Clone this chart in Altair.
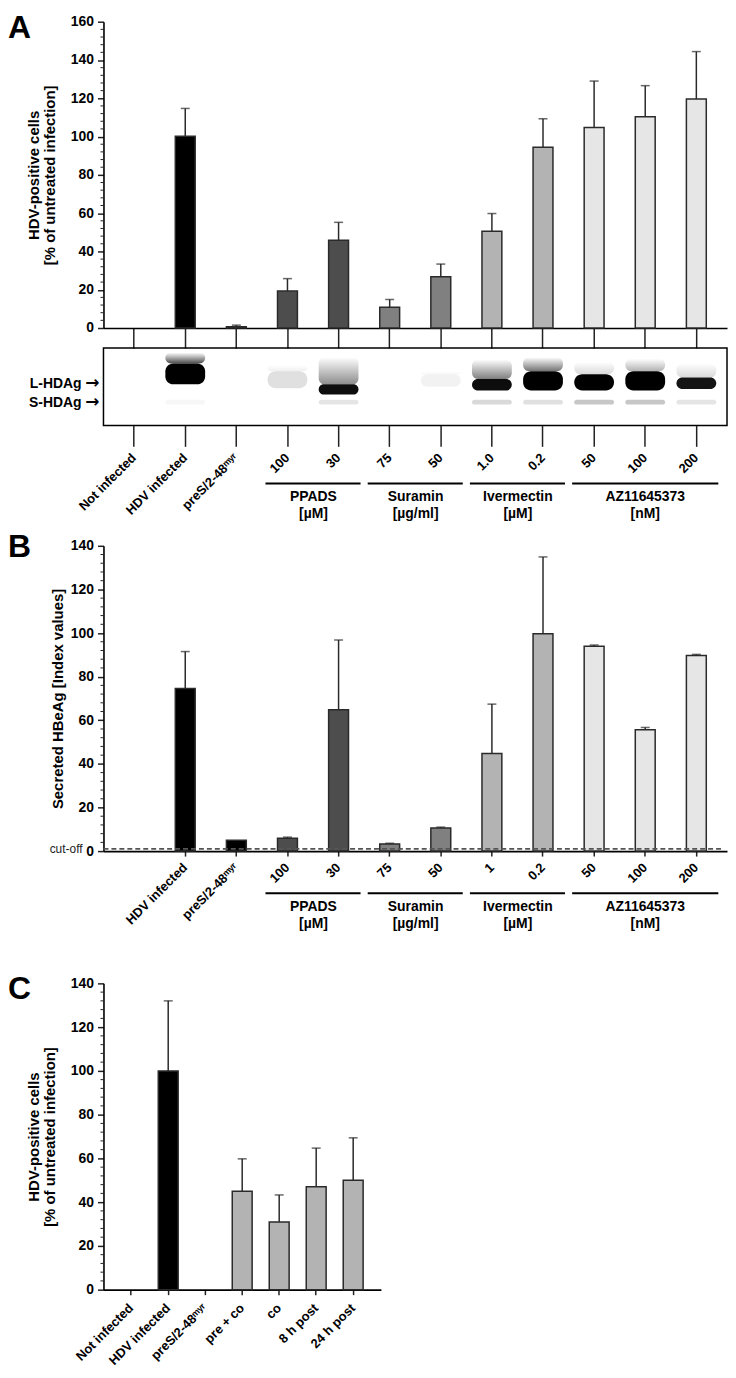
import json
import altair as alt
import pandas as pd

FONT = "Liberation Sans"

# ---------------- data: panels A and B (shared lanes) ----------------
lane_keys = ["Not infected", "HDV infected", "preS/2-48ᵐʸʳ", "PPADS 100", "PPADS 30",
             "Suramin 75", "Suramin 50", "Ivermectin 1.0", "Ivermectin 0.2",
             "AZ11645373 50", "AZ11645373 100", "AZ11645373 200"]
a_tick_labels = ["Not infected", "HDV infected", "preS/2-48ᵐʸʳ", "100", "30", "75", "50",
                 "1.0", "0.2", "50", "100", "200"]
b_tick_labels = ["", "HDV infected", "preS/2-48ᵐʸʳ", "100", "30", "75", "50",
                 "1", "0.2", "50", "100", "200"]
lane_colors = ["#000000", "#000000", "#000000", "#4d4d4d", "#4d4d4d", "#808080", "#808080",
               "#b3b3b3", "#b3b3b3", "#e6e6e6", "#e6e6e6", "#e6e6e6"]

a_values = [0, 100.2, 0.7, 19.3, 45.9, 10.8, 26.8, 50.5, 94.4, 104.8, 110.3, 119.6]
a_err_top = [None, 114.7, 1.5, 25.8, 55.2, 14.9, 33.4, 59.8, 109.3, 129.0, 126.6, 144.4]

b_values = [None, 74.6, 5.0, 5.9, 64.8, 3.3, 10.6, 44.8, 99.7, 93.9, 55.6, 89.7]
b_err_top = [None, 91.5, None, 6.4, 96.8, 3.6, 11.0, 67.4, 134.9, 94.5, 56.7, 90.2]
cutoff = [1.0]

# western blot (band darkness 0..1, band positions in % of blot height from top)
blot_smear = [0, 0.7, 0, 0.06, 0.45, 0, 0.03, 0.5, 0.55, 0.15, 0.3, 0.15]
blot_smear_top = [0, 6, 0, 22, 12, 0, 30, 15, 12, 18, 14, 20]
blot_L = [0, 1.0, 0, 0.12, 0.95, 0, 0.05, 0.95, 1.0, 1.0, 1.0, 0.92]
blot_L_top = [0, 20, 0, 30, 47, 0, 34, 40, 30, 34, 30, 38]
blot_L_bottom = [0, 47, 0, 52, 60, 0, 50, 55, 55, 55, 55, 53]
blot_S = [0, 0.03, 0, 0, 0.1, 0, 0, 0.15, 0.12, 0.22, 0.22, 0.1]
blot_S_top = [67] * 12
blot_S_bottom = [73] * 12
band_names = ["L-HDAg", "S-HDAg"]
band_pos = [47, 71]

group_names = ["PPADS", "Suramin", "Ivermectin", "AZ11645373"]
group_units = ["[µM]", "[µg/ml]", "[µM]", "[nM]"]
group_first = ["PPADS 100", "Suramin 75", "Ivermectin 1.0", "AZ11645373 50"]
group_last = ["PPADS 30", "Suramin 50", "Ivermectin 0.2", "AZ11645373 200"]
group_anchor = ["PPADS 100", "Suramin 75", "Ivermectin 1.0", "AZ11645373 100"]
group_nlanes = [2, 2, 2, 3]

# ---------------- data: panel C ----------------
c_keys = ["Not infected", "HDV infected", "preS/2-48ᵐʸʳ", "pre + co", "co", "8 h post", "24 h post"]
c_values = [0, 100.0, 0, 45.0, 30.9, 47.0, 50.0]
c_err_top = [None, 132.0, None, 59.8, 43.3, 64.7, 69.4]
c_colors = ["#000000", "#000000", "#000000", "#b3b3b3", "#b3b3b3", "#b3b3b3", "#b3b3b3"]

a_yticks = [0, 20, 40, 60, 80, 100, 120, 140, 160]
bc_yticks = [0, 20, 40, 60, 80, 100, 120, 140]
a_minor = [v for v in range(0, 161, 4) if v % 20]
bc_minor = [v for v in range(0, 141, 4) if v % 20]

# ---------------- sizes ----------------
AB_W = 627
A_H = 308
BLOT_H = 78
B_H = 307
C_W = 279
C_H = 308

STROKE = "#2a2a2a"
AXC = dict(labelFont=FONT, labelFontWeight="bold", labelColor="black",
           titleFont=FONT, titleFontWeight="bold", titleFontSize=15, titleColor="black",
           domainColor="black", domainWidth=1.6, tickColor="#222222", tickWidth=1.5, grid=False)


def lbl_expr(keys, labels):
    k = json.dumps(keys, ensure_ascii=False)
    lab = json.dumps(labels, ensure_ascii=False)
    return f"{lab}[indexof({k}, datum.value)]"


xscale_ab = alt.Scale(type="band", domain=lane_keys, paddingInner=0.14, paddingOuter=0.17)
xscale_c = alt.Scale(type="band", domain=c_keys, paddingInner=0.3, paddingOuter=0.4)


def y_axis(title, ticks, tpad):
    return alt.Axis(values=ticks, tickSize=6, labelPadding=4, labelFontSize=14, title=title,
                    titlePadding=tpad, titleLineHeight=16, **AXC)


def x_axis(**kw):
    return alt.Axis(labelFontSize=13, labelAngle=-45, labelAlign="right", labelBaseline="middle",
                    labelOverlap=False, title=None, **kw, **AXC)


def letter(ch, y):
    return alt.Chart(pd.DataFrame({"t": [ch]})).mark_text(
        font=FONT, fontSize=32, fontWeight="bold", align="left", baseline="top", color="black"
    ).encode(text="t:N", x=alt.value(-96), y=alt.value(y))


def bar_layers(df, xscale, xaxis, vmax, yaxis, minor):
    yscale = alt.Scale(domain=[0, vmax], nice=False, zero=True)
    xs = alt.X("lane:N", scale=xscale, axis=xaxis)
    bars = alt.Chart(df).transform_filter("datum.value > 0").mark_bar(
        width=20, stroke=STROKE, strokeWidth=1.5
    ).encode(
        x=xs,
        y=alt.Y("value:Q", scale=yscale, axis=yaxis),
        fill=alt.Fill("color:N", scale=None),
    )
    err = alt.Chart(df).transform_filter("isValid(datum.err) && datum.err > 0").mark_rule(
        color=STROKE, strokeWidth=1.5
    ).encode(x=xs, y=alt.Y("value:Q", scale=yscale, axis=yaxis), y2="err:Q")
    caps = alt.Chart(df).transform_filter("isValid(datum.err) && datum.err > 0").mark_tick(
        color=STROKE, size=9, thickness=1.5
    ).encode(x=xs, y=alt.Y("err:Q", scale=yscale, axis=yaxis))
    minors = alt.Chart(pd.DataFrame({"m": minor})).mark_rule(color="#222222", strokeWidth=1).encode(
        y=alt.Y("m:Q", scale=yscale, axis=yaxis), x=alt.value(-3), x2=alt.value(0)
    )
    return [bars, err, caps, minors], yscale


def group_layers(xaxis, y_rule, y_text):
    gdf = pd.DataFrame({"name": group_names, "unit": group_units, "first": group_first,
                        "last": group_last, "anchor": group_anchor, "n": group_nlanes})
    gdf["label"] = gdf["name"] + "\n" + gdf["unit"]
    rules = alt.Chart(gdf).mark_rule(color="black", strokeWidth=2).encode(
        x=alt.X("first:N", scale=xscale_ab, axis=xaxis, bandPosition=0),
        x2=alt.X2("last:N", bandPosition=1),
        y=alt.value(y_rule),
    )
    txt_kw = dict(font=FONT, fontSize=14, fontWeight="bold", align="center", baseline="top",
                  lineBreak="\n", lineHeight=17, color="black")
    t2 = alt.Chart(gdf).transform_filter("datum.n == 2").mark_text(dx=4, **txt_kw).encode(
        x=alt.X("anchor:N", scale=xscale_ab, axis=xaxis, bandPosition=1),
        y=alt.value(y_text), text="label:N",
    )
    t3 = alt.Chart(gdf).transform_filter("datum.n == 3").mark_text(**txt_kw).encode(
        x=alt.X("anchor:N", scale=xscale_ab, axis=xaxis, bandPosition=0.5),
        y=alt.value(y_text), text="label:N",
    )
    return [rules, t2, t3]


TITLE_HDV = ["HDV-positive cells", "[% of untreated infection]"]

# ---------------- panel A: bars ----------------
dfA = pd.DataFrame({"lane": lane_keys, "value": a_values, "err": a_err_top, "color": lane_colors})
a_xaxis = alt.Axis(labels=False, tickSize=20, title=None, **AXC)
a_yaxis = y_axis(TITLE_HDV, a_yticks, 13)
a_layers, _ = bar_layers(dfA, xscale_ab, a_xaxis, 160, a_yaxis, a_minor)
a_bar = alt.layer(*a_layers, letter("A", -9)).properties(width=AB_W, height=A_H)

# ---------------- panel A: blot ----------------
dfBlot = pd.DataFrame({"lane": lane_keys, "smear": blot_smear, "smear_top": blot_smear_top,
                       "L": blot_L, "L_top": blot_L_top, "L_bot": blot_L_bottom,
                       "S": blot_S, "S_top": blot_S_top, "S_bot": blot_S_bottom})
by = alt.Scale(domain=[0, 100], reverse=True, nice=False, zero=False)
blot_xaxis = x_axis(domain=False, tickSize=21, labelPadding=9,
                    labelExpr=lbl_expr(lane_keys, a_tick_labels))
bx = alt.X("lane:N", scale=xscale_ab, axis=blot_xaxis)
grad = alt.LinearGradient(gradient="linear",
                          stops=[alt.GradientStop(color="#ffffff", offset=0),
                                 alt.GradientStop(color="#000000", offset=1)],
                          x1=0, x2=0, y1=0, y2=1)
smear = alt.Chart(dfBlot).transform_filter("datum.smear > 0").mark_bar(
    width=40, cornerRadius=6, color=grad
).encode(
    x=bx, y=alt.Y("smear_top:Q", scale=by, axis=None), y2="L_top:Q",
    opacity=alt.Opacity("smear:Q", scale=None),
)
lband = alt.Chart(dfBlot).transform_filter("datum.L > 0").mark_bar(
    width=40, cornerRadius=8, color="#000000"
).encode(
    x=bx, y=alt.Y("L_top:Q", scale=by, axis=None), y2="L_bot:Q",
    opacity=alt.Opacity("L:Q", scale=None),
)
sband = alt.Chart(dfBlot).transform_filter("datum.S > 0").mark_bar(
    width=40, cornerRadius=3, color="#000000"
).encode(
    x=bx, y=alt.Y("S_top:Q", scale=by, axis=None), y2="S_bot:Q",
    opacity=alt.Opacity("S:Q", scale=None),
)
band_df = pd.DataFrame({"name": band_names, "pos": band_pos, "arrow": ["→", "→"]})
band_lbl = alt.Chart(band_df).mark_text(
    font=FONT, fontSize=14, fontWeight="bold", align="right", baseline="middle", color="black"
).encode(text="name:N", x=alt.value(-22), y=alt.Y("pos:Q", scale=by, axis=None))
band_arrow = alt.Chart(band_df).mark_text(
    font="DejaVu Sans", fontSize=17, fontWeight="bold", align="right", baseline="middle",
    color="black", dy=-1
).encode(text="arrow:N", x=alt.value(-4), y=alt.Y("pos:Q", scale=by, axis=None))

a_blot = alt.layer(smear, lband, sband, band_lbl, band_arrow,
                   *group_layers(blot_xaxis, BLOT_H + 58.4, BLOT_H + 65.4)).properties(
    width=AB_W, height=BLOT_H,
    view=alt.ViewBackground(stroke="black", strokeWidth=1.5),
)

# ---------------- panel B ----------------
dfB = pd.DataFrame({"lane": lane_keys, "value": b_values, "err": b_err_top, "color": lane_colors})
b_xaxis = x_axis(values=lane_keys[1:], tickSize=5, labelPadding=9,
                 labelExpr=lbl_expr(lane_keys, b_tick_labels))
b_yaxis = y_axis("Secreted HBeAg [Index values]", bc_yticks, 5)
b_layers, b_yscale = bar_layers(dfB, xscale_ab, b_xaxis, 140, b_yaxis, bc_minor)
cut_line = alt.Chart(pd.DataFrame({"v": cutoff})).mark_rule(
    color="#555555", strokeWidth=1.8, strokeDash=[5, 3]
).encode(y=alt.Y("v:Q", scale=b_yscale, axis=b_yaxis), x=alt.value(0), x2=alt.value(AB_W - 6))
cut_txt = alt.Chart(pd.DataFrame({"t": ["cut-off"], "v": [0]})).mark_text(
    font=FONT, fontSize=12, align="right", baseline="middle", color="#222222", dy=-2
).encode(text="t:N", x=alt.value(-21), y=alt.Y("v:Q", scale=b_yscale, axis=b_yaxis))
b_chart = alt.layer(*b_layers, cut_line, cut_txt, letter("B", -14),
                    *group_layers(b_xaxis, B_H + 42.3, B_H + 49.7)).properties(width=AB_W, height=B_H)

# ---------------- panel C ----------------
dfC = pd.DataFrame({"lane": c_keys, "value": c_values, "err": c_err_top, "color": c_colors})
c_xaxis = x_axis(tickSize=5, labelPadding=11)
c_yaxis = y_axis(TITLE_HDV, bc_yticks, 13)
c_layers, _ = bar_layers(dfC, xscale_c, c_xaxis, 140, c_yaxis, bc_minor)
c_chart = alt.layer(*c_layers, letter("C", -9)).properties(width=C_W, height=C_H)


def spacer(h):
    return alt.Chart(pd.DataFrame({"s": [0]})).mark_point(opacity=0).encode(
        x=alt.value(0), y=alt.value(0)
    ).properties(width=10, height=h)


chart = alt.vconcat(
    a_bar, a_blot, spacer(81), b_chart, spacer(93), c_chart,
    spacing=20, bounds="flush", padding=0,
).resolve_scale(x="independent", y="independent").configure_view(strokeWidth=0)

chart.save("out.html", embed_options={"renderer": "svg", "actions": False})
